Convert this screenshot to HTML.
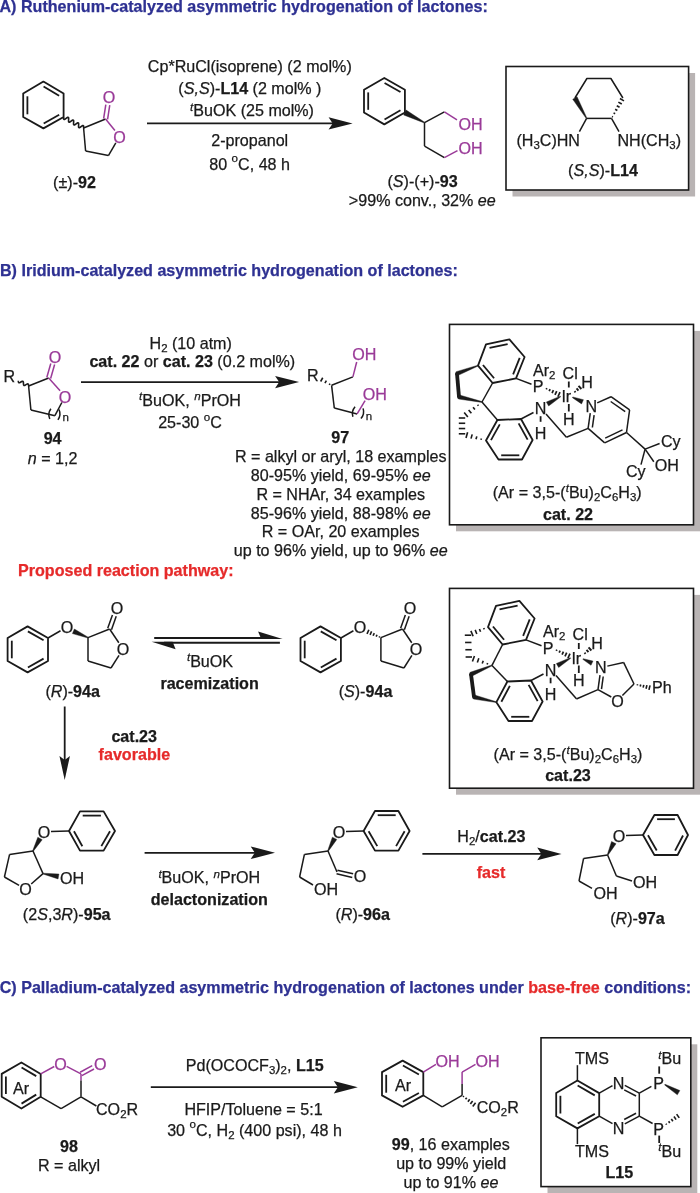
<!DOCTYPE html>
<html><head><meta charset="utf-8"><title>Scheme</title>
<style>
html,body{margin:0;padding:0;background:#fff;}
body{width:700px;height:1193px;overflow:hidden;}
svg{display:block;font-family:"Liberation Sans",sans-serif;will-change:transform;}
</style></head><body>
<svg width="700" height="1193" viewBox="0 0 700 1193">
<rect width="700" height="1193" fill="#ffffff"/>
<text x="-0.50" y="11.90" text-anchor="start" fill="#2e3192" stroke="#2e3192" stroke-width="0.25" font-size="16.1" font-weight="bold"  xml:space="preserve"><tspan font-size="16.10">A) Ruthenium-catalyzed asymmetric hydrogenation of lactones:</tspan></text>
<polygon points="43.40,81.60 63.60,93.60 63.60,117.00 43.40,128.40 23.20,117.00 23.20,93.60" fill="none" stroke="#1a1a1a" stroke-width="1.8" stroke-linejoin="round"/>
<line x1="43.58" y1="86.59" x2="59.13" y2="95.83" stroke="#1a1a1a" stroke-width="1.8"/>
<line x1="59.18" y1="114.67" x2="43.69" y2="123.42" stroke="#1a1a1a" stroke-width="1.8"/>
<line x1="27.40" y1="114.30" x2="27.40" y2="96.30" stroke="#1a1a1a" stroke-width="1.8"/>
<polyline points="63.60,117.00 63.53,118.11 63.60,118.98 63.89,119.44 64.43,119.43 65.20,119.02 66.10,118.38 67.00,117.73 67.77,117.32 68.31,117.31 68.60,117.77 68.67,118.64 68.60,119.75 68.53,120.86 68.60,121.73 68.89,122.19 69.43,122.18 70.20,121.77 71.10,121.12 72.00,120.48 72.77,120.07 73.31,120.06 73.60,120.52 73.67,121.39 73.60,122.50 73.53,123.61 73.60,124.48 73.89,124.94 74.43,124.93 75.20,124.52 76.10,123.88 77.00,123.23 77.77,122.82 78.31,122.81 78.60,123.27 78.67,124.14 78.60,125.25 78.53,126.36 78.60,127.23 78.89,127.69 79.43,127.68 80.20,127.27 81.10,126.62 82.00,125.98 82.77,125.57 83.31,125.56 83.60,126.02 83.67,126.89 83.60,128.00" fill="none" stroke="#1a1a1a" stroke-width="1.6" stroke-linejoin="round"/>
<line x1="83.60" y1="128.00" x2="105.60" y2="119.00" stroke="#1a1a1a" stroke-width="1.5"/>
<line x1="105.60" y1="119.00" x2="114.90" y2="130.56" stroke="#9a3a98" stroke-width="1.5"/>
<line x1="115.82" y1="142.88" x2="108.40" y2="155.60" stroke="#1a1a1a" stroke-width="1.5"/>
<line x1="108.40" y1="155.60" x2="85.60" y2="151.00" stroke="#1a1a1a" stroke-width="1.5"/>
<line x1="85.60" y1="151.00" x2="83.60" y2="128.00" stroke="#1a1a1a" stroke-width="1.5"/>
<line x1="107.58" y1="119.31" x2="109.75" y2="105.21" stroke="#9a3a98" stroke-width="1.5"/>
<line x1="103.62" y1="118.69" x2="105.80" y2="104.60" stroke="#9a3a98" stroke-width="1.5"/>
<text x="109.00" y="103.40" text-anchor="middle" fill="#9a3a98" stroke="#9a3a98" stroke-width="0.25" font-size="16.1"  xml:space="preserve"><tspan font-size="16.10">O</tspan></text>
<text x="119.60" y="142.80" text-anchor="middle" fill="#9a3a98" stroke="#9a3a98" stroke-width="0.25" font-size="16.1"  xml:space="preserve"><tspan font-size="16.10">O</tspan></text>
<text x="74.50" y="187.70" text-anchor="middle" fill="#1a1a1a" stroke="#1a1a1a" stroke-width="0.25" font-size="16.1"  xml:space="preserve"><tspan font-size="16.10">(±)-</tspan><tspan font-size="16.10" font-weight="bold">92</tspan></text>
<line x1="147.00" y1="123.40" x2="333.68" y2="123.40" stroke="#1a1a1a" stroke-width="1.8"/>
<polygon points="352.60,123.40 328.60,129.60 332.68,123.40 328.60,117.20" fill="#1a1a1a"/>
<text x="249.80" y="71.60" text-anchor="middle" fill="#1a1a1a" stroke="#1a1a1a" stroke-width="0.25" font-size="16.1"  xml:space="preserve"><tspan font-size="16.10">Cp*RuCl(isoprene) (2 mol%)</tspan></text>
<text x="249.90" y="93.60" text-anchor="middle" fill="#1a1a1a" stroke="#1a1a1a" stroke-width="0.25" font-size="16.1"  xml:space="preserve"><tspan font-size="16.10">(</tspan><tspan font-size="16.10" font-style="italic">S,S</tspan><tspan font-size="16.10">)-</tspan><tspan font-size="16.10" font-weight="bold">L14</tspan><tspan font-size="16.10"> (2 mol% )</tspan></text>
<text x="252.00" y="116.20" text-anchor="middle" fill="#1a1a1a" stroke="#1a1a1a" stroke-width="0.25" font-size="16.1"  xml:space="preserve"><tspan font-size="11.59" dy="-5.63" font-style="italic">t</tspan><tspan font-size="16.10" dy="5.63">BuOK (25 mol%)</tspan></text>
<text x="249.70" y="146.10" text-anchor="middle" fill="#1a1a1a" stroke="#1a1a1a" stroke-width="0.25" font-size="16.1"  xml:space="preserve"><tspan font-size="16.10">2-propanol</tspan></text>
<text x="249.60" y="169.50" text-anchor="middle" fill="#1a1a1a" stroke="#1a1a1a" stroke-width="0.25" font-size="16.1"  xml:space="preserve"><tspan font-size="16.10">80 </tspan><tspan font-size="11.59" dy="-7.08">o</tspan><tspan font-size="16.10" dy="7.08">C, 48 h</tspan></text>
<polygon points="384.30,78.00 404.90,89.70 404.90,112.50 384.30,124.40 364.00,112.50 364.00,89.70" fill="none" stroke="#1a1a1a" stroke-width="1.8" stroke-linejoin="round"/>
<line x1="384.57" y1="82.99" x2="400.48" y2="92.02" stroke="#1a1a1a" stroke-width="1.8"/>
<line x1="400.46" y1="110.21" x2="384.54" y2="119.41" stroke="#1a1a1a" stroke-width="1.8"/>
<line x1="368.20" y1="109.80" x2="368.20" y2="92.40" stroke="#1a1a1a" stroke-width="1.8"/>
<polygon points="424.32,122.96 424.68,122.24 406.16,110.06 403.64,114.94" fill="#1a1a1a" stroke="#1a1a1a" stroke-width="0.4"/>
<line x1="424.50" y1="122.60" x2="444.40" y2="111.90" stroke="#1a1a1a" stroke-width="1.5"/>
<line x1="444.40" y1="111.90" x2="457.00" y2="119.90" stroke="#9a3a98" stroke-width="1.5"/>
<line x1="424.50" y1="122.60" x2="424.50" y2="146.10" stroke="#1a1a1a" stroke-width="1.5"/>
<line x1="424.50" y1="146.10" x2="444.40" y2="157.60" stroke="#1a1a1a" stroke-width="1.5"/>
<line x1="444.40" y1="157.60" x2="457.50" y2="150.70" stroke="#9a3a98" stroke-width="1.5"/>
<text x="458.60" y="130.20" text-anchor="start" fill="#9a3a98" stroke="#9a3a98" stroke-width="0.25" font-size="16.1"  xml:space="preserve"><tspan font-size="16.10">OH</tspan></text>
<text x="458.60" y="153.70" text-anchor="start" fill="#9a3a98" stroke="#9a3a98" stroke-width="0.25" font-size="16.1"  xml:space="preserve"><tspan font-size="16.10">OH</tspan></text>
<text x="422.60" y="186.70" text-anchor="middle" fill="#1a1a1a" stroke="#1a1a1a" stroke-width="0.25" font-size="16.1"  xml:space="preserve"><tspan font-size="16.10">(</tspan><tspan font-size="16.10" font-style="italic">S</tspan><tspan font-size="16.10">)-(+)-</tspan><tspan font-size="16.10" font-weight="bold">93</tspan></text>
<text x="422.30" y="206.10" text-anchor="middle" fill="#1a1a1a" stroke="#1a1a1a" stroke-width="0.25" font-size="16.1"  xml:space="preserve"><tspan font-size="16.10">&gt;99% conv., 32% </tspan><tspan font-size="16.10" font-style="italic">ee</tspan></text>
<rect x="512.5" y="73.0" width="182.60000000000002" height="123.5" fill="#b9b4b4"/>
<rect x="506" y="66.5" width="182.60000000000002" height="123.5" fill="#fff" stroke="#1a1a1a" stroke-width="1.6"/>
<polyline points="574.90,98.00 586.90,78.50 610.90,78.50 622.90,98.00" fill="none" stroke="#1a1a1a" stroke-width="1.5" stroke-linejoin="round"/>
<line x1="611.50" y1="118.40" x2="586.60" y2="118.40" stroke="#1a1a1a" stroke-width="1.5"/>
<polygon points="586.25,118.60 586.95,118.20 577.07,96.76 572.73,99.24" fill="#1a1a1a" stroke="#1a1a1a" stroke-width="0.4"/>
<line x1="611.97" y1="116.43" x2="612.93" y2="116.97" stroke="#1a1a1a" stroke-width="1.6"/>
<line x1="613.56" y1="112.86" x2="615.14" y2="113.74" stroke="#1a1a1a" stroke-width="1.6"/>
<line x1="615.15" y1="109.29" x2="617.35" y2="110.51" stroke="#1a1a1a" stroke-width="1.6"/>
<line x1="616.74" y1="105.71" x2="619.56" y2="107.29" stroke="#1a1a1a" stroke-width="1.6"/>
<line x1="618.33" y1="102.14" x2="621.77" y2="104.06" stroke="#1a1a1a" stroke-width="1.6"/>
<line x1="619.92" y1="98.57" x2="623.98" y2="100.83" stroke="#1a1a1a" stroke-width="1.6"/>
<line x1="586.60" y1="118.40" x2="579.40" y2="131.60" stroke="#1a1a1a" stroke-width="1.5"/>
<line x1="611.50" y1="118.40" x2="619.00" y2="131.60" stroke="#1a1a1a" stroke-width="1.5"/>
<text x="580.00" y="146.20" text-anchor="end" fill="#1a1a1a" stroke="#1a1a1a" stroke-width="0.25" font-size="16.1"  xml:space="preserve"><tspan font-size="16.10">(H</tspan><tspan font-size="11.43" dy="3.06">3</tspan><tspan font-size="16.10" dy="-3.06">C)HN</tspan></text>
<text x="617.50" y="146.20" text-anchor="start" fill="#1a1a1a" stroke="#1a1a1a" stroke-width="0.25" font-size="16.1"  xml:space="preserve"><tspan font-size="16.10">NH(CH</tspan><tspan font-size="11.43" dy="3.06">3</tspan><tspan font-size="16.10" dy="-3.06">)</tspan></text>
<text x="603.00" y="176.20" text-anchor="middle" fill="#1a1a1a" stroke="#1a1a1a" stroke-width="0.25" font-size="16.1"  xml:space="preserve"><tspan font-size="16.10">(</tspan><tspan font-size="16.10" font-style="italic">S,S</tspan><tspan font-size="16.10">)-</tspan><tspan font-size="16.10" font-weight="bold">L14</tspan></text>
<text x="0.00" y="276.30" text-anchor="start" fill="#2e3192" stroke="#2e3192" stroke-width="0.25" font-size="16.1" font-weight="bold"  xml:space="preserve"><tspan font-size="16.10">B) Iridium-catalyzed asymmetric hydrogenation of lactones:</tspan></text>
<text x="3.40" y="382.10" text-anchor="start" fill="#1a1a1a" stroke="#1a1a1a" stroke-width="0.25" font-size="16.1"  xml:space="preserve"><tspan font-size="16.10">R</tspan></text>
<polyline points="18.30,380.70 18.36,381.63 18.52,382.37 18.86,382.79 19.38,382.82 20.08,382.52 20.88,382.02 21.67,381.53 22.37,381.23 22.89,381.26 23.23,381.68 23.39,382.42 23.45,383.35 23.51,384.28 23.67,385.02 24.01,385.44 24.53,385.47 25.23,385.17 26.03,384.68 26.82,384.18 27.52,383.88 28.04,383.91 28.38,384.33 28.54,385.07 28.60,386.00" fill="none" stroke="#1a1a1a" stroke-width="1.6" stroke-linejoin="round"/>
<line x1="28.60" y1="386.00" x2="48.70" y2="378.00" stroke="#1a1a1a" stroke-width="1.5"/>
<line x1="50.62" y1="378.55" x2="54.63" y2="364.54" stroke="#9a3a98" stroke-width="1.5"/>
<line x1="46.78" y1="377.45" x2="50.78" y2="363.44" stroke="#9a3a98" stroke-width="1.5"/>
<text x="54.90" y="362.70" text-anchor="middle" fill="#9a3a98" stroke="#9a3a98" stroke-width="0.25" font-size="16.1"  xml:space="preserve"><tspan font-size="16.10">O</tspan></text>
<text x="65.10" y="402.70" text-anchor="middle" fill="#9a3a98" stroke="#9a3a98" stroke-width="0.25" font-size="16.1"  xml:space="preserve"><tspan font-size="16.10">O</tspan></text>
<line x1="48.70" y1="378.00" x2="60.09" y2="390.71" stroke="#9a3a98" stroke-width="1.5"/>
<line x1="61.84" y1="402.50" x2="54.90" y2="415.70" stroke="#1a1a1a" stroke-width="1.5"/>
<line x1="28.60" y1="386.00" x2="30.90" y2="410.00" stroke="#1a1a1a" stroke-width="1.5"/>
<line x1="30.90" y1="410.00" x2="54.90" y2="415.70" stroke="#1a1a1a" stroke-width="1.5"/>
<g transform="translate(54.40,414.30) rotate(6.0)"><path d="M-4.10,-5.2 Q-7.00,0 -4.10,5.2" fill="none" stroke="#1a1a1a" stroke-width="1.5"/><path d="M4.10,-5.2 Q7.00,0 4.10,5.2" fill="none" stroke="#1a1a1a" stroke-width="1.5"/></g>
<text x="62.50" y="421.10" text-anchor="start" fill="#1a1a1a" stroke="#1a1a1a" stroke-width="0.25" font-size="11.5"  xml:space="preserve"><tspan font-size="11.50">n</tspan></text>
<text x="52.60" y="444.30" text-anchor="middle" fill="#1a1a1a" stroke="#1a1a1a" stroke-width="0.25" font-size="16.1"  xml:space="preserve"><tspan font-size="16.10" font-weight="bold">94</tspan></text>
<text x="52.60" y="463.70" text-anchor="middle" fill="#1a1a1a" stroke="#1a1a1a" stroke-width="0.25" font-size="16.1"  xml:space="preserve"><tspan font-size="16.10" font-style="italic">n</tspan><tspan font-size="16.10"> = 1,2</tspan></text>
<line x1="81.00" y1="382.10" x2="280.18" y2="382.10" stroke="#1a1a1a" stroke-width="1.8"/>
<polygon points="299.10,382.10 275.10,388.30 279.18,382.10 275.10,375.90" fill="#1a1a1a"/>
<text x="190.70" y="349.30" text-anchor="middle" fill="#1a1a1a" stroke="#1a1a1a" stroke-width="0.25" font-size="16.1"  xml:space="preserve"><tspan font-size="16.10">H</tspan><tspan font-size="11.43" dy="3.06">2</tspan><tspan font-size="16.10" dy="-3.06"> (10 atm)</tspan></text>
<text x="192.30" y="367.00" text-anchor="middle" fill="#1a1a1a" stroke="#1a1a1a" stroke-width="0.25" font-size="16.1"  xml:space="preserve"><tspan font-size="16.10" font-weight="bold">cat. 22</tspan><tspan font-size="16.10"> or </tspan><tspan font-size="16.10" font-weight="bold">cat. 23</tspan><tspan font-size="16.10"> (0.2 mol%)</tspan></text>
<text x="190.00" y="405.90" text-anchor="middle" fill="#1a1a1a" stroke="#1a1a1a" stroke-width="0.25" font-size="16.1"  xml:space="preserve"><tspan font-size="11.59" dy="-5.63" font-style="italic">t</tspan><tspan font-size="16.10" dy="5.63">BuOK, </tspan><tspan font-size="11.59" dy="-5.63" font-style="italic">n</tspan><tspan font-size="16.10" dy="5.63">PrOH</tspan></text>
<text x="190.00" y="428.00" text-anchor="middle" fill="#1a1a1a" stroke="#1a1a1a" stroke-width="0.25" font-size="16.1"  xml:space="preserve"><tspan font-size="16.10">25-30 </tspan><tspan font-size="11.59" dy="-7.08">o</tspan><tspan font-size="16.10" dy="7.08">C</tspan></text>
<text x="307.10" y="380.50" text-anchor="start" fill="#1a1a1a" stroke="#1a1a1a" stroke-width="0.25" font-size="16.1"  xml:space="preserve"><tspan font-size="16.10">R</tspan></text>
<line x1="329.25" y1="384.80" x2="329.98" y2="383.53" stroke="#1a1a1a" stroke-width="1.6"/>
<line x1="324.94" y1="383.15" x2="326.36" y2="380.65" stroke="#1a1a1a" stroke-width="1.6"/>
<line x1="320.62" y1="381.50" x2="322.75" y2="377.77" stroke="#1a1a1a" stroke-width="1.6"/>
<line x1="331.60" y1="385.30" x2="352.90" y2="376.90" stroke="#1a1a1a" stroke-width="1.5"/>
<line x1="352.90" y1="376.90" x2="356.70" y2="362.00" stroke="#9a3a98" stroke-width="1.5"/>
<text x="352.20" y="360.40" text-anchor="start" fill="#9a3a98" stroke="#9a3a98" stroke-width="0.25" font-size="16.1"  xml:space="preserve"><tspan font-size="16.10">OH</tspan></text>
<line x1="331.60" y1="385.30" x2="334.30" y2="408.10" stroke="#1a1a1a" stroke-width="1.5"/>
<line x1="334.30" y1="408.10" x2="357.10" y2="413.90" stroke="#1a1a1a" stroke-width="1.5"/>
<line x1="357.10" y1="413.90" x2="365.10" y2="400.70" stroke="#9a3a98" stroke-width="1.5"/>
<text x="362.70" y="399.70" text-anchor="start" fill="#9a3a98" stroke="#9a3a98" stroke-width="0.25" font-size="16.1"  xml:space="preserve"><tspan font-size="16.10">OH</tspan></text>
<g transform="translate(358.00,412.60) rotate(12.0)"><path d="M-4.10,-5.2 Q-7.00,0 -4.10,5.2" fill="none" stroke="#1a1a1a" stroke-width="1.5"/><path d="M4.10,-5.2 Q7.00,0 4.10,5.2" fill="none" stroke="#1a1a1a" stroke-width="1.5"/></g>
<text x="365.70" y="419.60" text-anchor="start" fill="#1a1a1a" stroke="#1a1a1a" stroke-width="0.25" font-size="11.5"  xml:space="preserve"><tspan font-size="11.50">n</tspan></text>
<text x="340.30" y="443.40" text-anchor="middle" fill="#1a1a1a" stroke="#1a1a1a" stroke-width="0.25" font-size="16.1"  xml:space="preserve"><tspan font-size="16.10" font-weight="bold">97</tspan></text>
<text x="340.70" y="462.00" text-anchor="middle" fill="#1a1a1a" stroke="#1a1a1a" stroke-width="0.25" font-size="16.1"  xml:space="preserve"><tspan font-size="16.10">R = alkyl or aryl, 18 examples</tspan></text>
<text x="340.70" y="480.85" text-anchor="middle" fill="#1a1a1a" stroke="#1a1a1a" stroke-width="0.25" font-size="16.1"  xml:space="preserve"><tspan font-size="16.10">80-95% yield, 69-95% </tspan><tspan font-size="16.10" font-style="italic">ee</tspan></text>
<text x="340.70" y="499.70" text-anchor="middle" fill="#1a1a1a" stroke="#1a1a1a" stroke-width="0.25" font-size="16.1"  xml:space="preserve"><tspan font-size="16.10">R = NHAr, 34 examples</tspan></text>
<text x="340.70" y="518.55" text-anchor="middle" fill="#1a1a1a" stroke="#1a1a1a" stroke-width="0.25" font-size="16.1"  xml:space="preserve"><tspan font-size="16.10">85-96% yield, 88-98% </tspan><tspan font-size="16.10" font-style="italic">ee</tspan></text>
<text x="340.70" y="537.40" text-anchor="middle" fill="#1a1a1a" stroke="#1a1a1a" stroke-width="0.25" font-size="16.1"  xml:space="preserve"><tspan font-size="16.10">R = OAr, 20 examples</tspan></text>
<text x="340.70" y="556.25" text-anchor="middle" fill="#1a1a1a" stroke="#1a1a1a" stroke-width="0.25" font-size="16.1"  xml:space="preserve"><tspan font-size="16.10">up to 96% yield, up to 96% </tspan><tspan font-size="16.10" font-style="italic">ee</tspan></text>
<rect x="456.0" y="330.9" width="244.0" height="200.39999999999998" fill="#b9b4b4"/>
<rect x="449.5" y="324.4" width="244.0" height="200.39999999999998" fill="#fff" stroke="#1a1a1a" stroke-width="1.6"/>
<polygon points="486.00,344.40 509.40,339.40 524.60,357.00 516.00,378.40 492.60,383.00 478.00,365.60" fill="none" stroke="#1a1a1a" stroke-width="1.8" stroke-linejoin="round"/>
<line x1="489.52" y1="347.94" x2="507.64" y2="344.07" stroke="#1a1a1a" stroke-width="1.8"/>
<line x1="519.70" y1="357.94" x2="513.11" y2="374.33" stroke="#1a1a1a" stroke-width="1.8"/>
<line x1="494.08" y1="378.23" x2="482.95" y2="364.97" stroke="#1a1a1a" stroke-width="1.8"/>
<polygon points="486.00,440.50 497.40,420.00 521.00,419.00 532.60,440.00 522.00,459.50 498.50,459.50" fill="none" stroke="#1a1a1a" stroke-width="1.8" stroke-linejoin="round"/>
<line x1="490.98" y1="440.18" x2="499.76" y2="424.40" stroke="#1a1a1a" stroke-width="1.8"/>
<line x1="518.63" y1="423.39" x2="527.62" y2="439.67" stroke="#1a1a1a" stroke-width="1.8"/>
<line x1="519.30" y1="455.30" x2="501.20" y2="455.30" stroke="#1a1a1a" stroke-width="1.8"/>
<line x1="482.00" y1="402.00" x2="492.60" y2="383.00" stroke="#1a1a1a" stroke-width="1.5"/>
<line x1="482.00" y1="402.00" x2="497.40" y2="420.00" stroke="#1a1a1a" stroke-width="1.5"/>
<polygon points="478.14,365.97 477.86,365.23 456.25,371.64 457.75,375.56" fill="#1a1a1a" stroke="#1a1a1a" stroke-width="0.4"/>
<line x1="457.00" y1="373.60" x2="459.00" y2="397.00" stroke="#1a1a1a" stroke-width="3.8"/>
<polygon points="481.92,402.39 482.08,401.61 459.45,394.95 458.55,399.05" fill="#1a1a1a" stroke="#1a1a1a" stroke-width="0.4"/>
<circle cx="457.00" cy="373.60" r="1.9" fill="#1a1a1a"/><circle cx="459.00" cy="397.00" r="1.9" fill="#1a1a1a"/>
<line x1="478.46" y1="405.77" x2="477.54" y2="404.63" stroke="#1a1a1a" stroke-width="1.6"/>
<line x1="474.92" y1="409.55" x2="473.08" y2="407.25" stroke="#1a1a1a" stroke-width="1.6"/>
<line x1="471.38" y1="413.32" x2="468.62" y2="409.88" stroke="#1a1a1a" stroke-width="1.6"/>
<line x1="467.84" y1="417.10" x2="464.16" y2="412.50" stroke="#1a1a1a" stroke-width="1.6"/>
<line x1="458.80" y1="418.00" x2="465.20" y2="418.00" stroke="#1a1a1a" stroke-width="1.6"/>
<line x1="458.80" y1="423.27" x2="465.20" y2="423.27" stroke="#1a1a1a" stroke-width="1.6"/>
<line x1="458.80" y1="428.53" x2="465.20" y2="428.53" stroke="#1a1a1a" stroke-width="1.6"/>
<line x1="458.80" y1="433.80" x2="465.20" y2="433.80" stroke="#1a1a1a" stroke-width="1.6"/>
<line x1="481.00" y1="439.87" x2="481.40" y2="438.45" stroke="#1a1a1a" stroke-width="1.6"/>
<line x1="476.00" y1="439.24" x2="476.80" y2="436.40" stroke="#1a1a1a" stroke-width="1.6"/>
<line x1="471.01" y1="438.61" x2="472.19" y2="434.35" stroke="#1a1a1a" stroke-width="1.6"/>
<line x1="466.01" y1="437.98" x2="467.59" y2="432.30" stroke="#1a1a1a" stroke-width="1.6"/>
<line x1="516.00" y1="378.40" x2="531.50" y2="384.20" stroke="#1a1a1a" stroke-width="1.5"/>
<text x="538.00" y="392.40" text-anchor="middle" fill="#1a1a1a" stroke="#1a1a1a" stroke-width="0.25" font-size="16.1"  xml:space="preserve"><tspan font-size="16.10">P</tspan></text>
<text x="533.00" y="375.70" text-anchor="start" fill="#1a1a1a" stroke="#1a1a1a" stroke-width="0.25" font-size="16.1"  xml:space="preserve"><tspan font-size="16.10">Ar</tspan><tspan font-size="11.43" dy="3.06">2</tspan></text>
<line x1="521.00" y1="419.00" x2="533.50" y2="412.50" stroke="#1a1a1a" stroke-width="1.5"/>
<text x="540.60" y="414.30" text-anchor="middle" fill="#1a1a1a" stroke="#1a1a1a" stroke-width="0.25" font-size="16.1"  xml:space="preserve"><tspan font-size="16.10">N</tspan></text>
<line x1="540.60" y1="416.20" x2="540.60" y2="421.80" stroke="#1a1a1a" stroke-width="1.8"/>
<text x="540.60" y="438.70" text-anchor="middle" fill="#1a1a1a" stroke="#1a1a1a" stroke-width="0.25" font-size="16.1"  xml:space="preserve"><tspan font-size="16.10">H</tspan></text>
<text x="566.30" y="402.30" text-anchor="middle" fill="#1a1a1a" stroke="#1a1a1a" stroke-width="0.25" font-size="16.1"  xml:space="preserve"><tspan font-size="16.10">Ir</tspan></text>
<text x="570.20" y="378.70" text-anchor="middle" fill="#1a1a1a" stroke="#1a1a1a" stroke-width="0.25" font-size="16.1"  xml:space="preserve"><tspan font-size="16.10">Cl</tspan></text>
<line x1="568.80" y1="381.50" x2="568.80" y2="387.50" stroke="#1a1a1a" stroke-width="1.8"/>
<line x1="568.80" y1="404.00" x2="568.80" y2="411.50" stroke="#1a1a1a" stroke-width="1.8"/>
<text x="568.80" y="424.90" text-anchor="middle" fill="#1a1a1a" stroke="#1a1a1a" stroke-width="0.25" font-size="16.1"  xml:space="preserve"><tspan font-size="16.10">H</tspan></text>
<text x="587.00" y="387.70" text-anchor="middle" fill="#1a1a1a" stroke="#1a1a1a" stroke-width="0.25" font-size="16.1"  xml:space="preserve"><tspan font-size="16.10">H</tspan></text>
<line x1="546.82" y1="388.13" x2="546.28" y2="389.31" stroke="#1a1a1a" stroke-width="1.7"/>
<line x1="550.12" y1="389.15" x2="549.18" y2="391.17" stroke="#1a1a1a" stroke-width="1.7"/>
<line x1="553.42" y1="390.17" x2="552.08" y2="393.03" stroke="#1a1a1a" stroke-width="1.7"/>
<line x1="556.71" y1="391.18" x2="554.99" y2="394.90" stroke="#1a1a1a" stroke-width="1.7"/>
<line x1="560.01" y1="392.20" x2="557.89" y2="396.76" stroke="#1a1a1a" stroke-width="1.7"/>
<polygon points="560.70,396.85 560.30,396.15 546.35,402.01 548.65,405.99" fill="#1a1a1a" stroke="#1a1a1a" stroke-width="0.4"/>
<line x1="574.55" y1="391.17" x2="575.51" y2="392.26" stroke="#1a1a1a" stroke-width="1.9"/>
<line x1="576.55" y1="388.47" x2="578.45" y2="390.63" stroke="#1a1a1a" stroke-width="1.9"/>
<line x1="578.55" y1="385.77" x2="581.38" y2="389.00" stroke="#1a1a1a" stroke-width="1.9"/>
<line x1="546.00" y1="414.00" x2="566.40" y2="437.30" stroke="#1a1a1a" stroke-width="1.5"/>
<polygon points="572.77,396.94 572.43,397.66 581.55,403.89 583.45,399.71" fill="#1a1a1a" stroke="#1a1a1a" stroke-width="0.4"/>
<text x="591.30" y="411.50" text-anchor="middle" fill="#1a1a1a" stroke="#1a1a1a" stroke-width="0.25" font-size="16.1"  xml:space="preserve"><tspan font-size="16.10">N</tspan></text>
<line x1="597.22" y1="402.92" x2="611.00" y2="396.70" stroke="#1a1a1a" stroke-width="1.5"/>
<line x1="611.00" y1="396.70" x2="629.60" y2="409.80" stroke="#1a1a1a" stroke-width="1.5"/>
<line x1="610.68" y1="401.49" x2="625.20" y2="411.71" stroke="#1a1a1a" stroke-width="1.5"/>
<line x1="629.60" y1="409.80" x2="626.50" y2="432.50" stroke="#1a1a1a" stroke-width="1.5"/>
<line x1="626.50" y1="432.50" x2="604.70" y2="442.90" stroke="#1a1a1a" stroke-width="1.5"/>
<line x1="622.48" y1="429.88" x2="605.19" y2="438.12" stroke="#1a1a1a" stroke-width="1.5"/>
<line x1="604.70" y1="442.90" x2="588.10" y2="428.40" stroke="#1a1a1a" stroke-width="1.5"/>
<line x1="588.10" y1="428.40" x2="590.26" y2="413.03" stroke="#1a1a1a" stroke-width="1.5"/>
<line x1="592.37" y1="427.48" x2="594.11" y2="415.08" stroke="#1a1a1a" stroke-width="1.5"/>
<line x1="588.10" y1="428.40" x2="566.40" y2="437.30" stroke="#1a1a1a" stroke-width="1.5"/>
<line x1="626.50" y1="432.50" x2="645.10" y2="449.10" stroke="#1a1a1a" stroke-width="1.5"/>
<line x1="645.10" y1="449.10" x2="659.60" y2="443.50" stroke="#1a1a1a" stroke-width="1.5"/>
<text x="661.00" y="446.70" text-anchor="start" fill="#1a1a1a" stroke="#1a1a1a" stroke-width="0.25" font-size="16.1"  xml:space="preserve"><tspan font-size="16.10">Cy</tspan></text>
<line x1="645.10" y1="449.10" x2="653.83" y2="461.78" stroke="#1a1a1a" stroke-width="1.5"/>
<text x="654.80" y="471.10" text-anchor="start" fill="#1a1a1a" stroke="#1a1a1a" stroke-width="0.25" font-size="16.1"  xml:space="preserve"><tspan font-size="16.10">OH</tspan></text>
<line x1="645.10" y1="449.10" x2="641.00" y2="464.60" stroke="#1a1a1a" stroke-width="1.5"/>
<text x="626.00" y="477.20" text-anchor="start" fill="#1a1a1a" stroke="#1a1a1a" stroke-width="0.25" font-size="16.1"  xml:space="preserve"><tspan font-size="16.10">Cy</tspan></text>
<text x="567.20" y="497.90" text-anchor="middle" fill="#1a1a1a" stroke="#1a1a1a" stroke-width="0.25" font-size="16.1"  xml:space="preserve"><tspan font-size="16.10">(Ar = 3,5-(</tspan><tspan font-size="11.59" dy="-5.63" font-style="italic">t</tspan><tspan font-size="16.10" dy="5.63">Bu)</tspan><tspan font-size="11.43" dy="3.06">2</tspan><tspan font-size="16.10" dy="-3.06">C</tspan><tspan font-size="11.43" dy="3.06">6</tspan><tspan font-size="16.10" dy="-3.06">H</tspan><tspan font-size="11.43" dy="3.06">3</tspan><tspan font-size="16.10" dy="-3.06">)</tspan></text>
<text x="568.00" y="519.70" text-anchor="middle" fill="#1a1a1a" stroke="#1a1a1a" stroke-width="0.25" font-size="16.1"  xml:space="preserve"><tspan font-size="16.10" font-weight="bold">cat. 22</tspan></text>
<text x="18.00" y="576.00" text-anchor="start" fill="#e62a2a" stroke="#e62a2a" stroke-width="0.25" font-size="16.1" font-weight="bold"  xml:space="preserve"><tspan font-size="16.10">Proposed reaction pathway:</tspan></text>
<polygon points="27.60,626.40 48.00,638.00 48.00,661.00 27.60,672.40 7.60,661.00 7.60,638.00" fill="none" stroke="#1a1a1a" stroke-width="1.8" stroke-linejoin="round"/>
<line x1="27.87" y1="631.39" x2="43.58" y2="640.32" stroke="#1a1a1a" stroke-width="1.8"/>
<line x1="43.59" y1="658.65" x2="27.91" y2="667.42" stroke="#1a1a1a" stroke-width="1.8"/>
<line x1="11.80" y1="658.30" x2="11.80" y2="640.70" stroke="#1a1a1a" stroke-width="1.8"/>
<line x1="48.00" y1="638.00" x2="60.51" y2="630.76" stroke="#1a1a1a" stroke-width="1.5"/>
<text x="67.00" y="633.20" text-anchor="middle" fill="#1a1a1a" stroke="#1a1a1a" stroke-width="0.25" font-size="16.1"  xml:space="preserve"><tspan font-size="16.10">O</tspan></text>
<polygon points="87.84,637.97 88.16,637.23 74.39,629.00 72.41,633.60" fill="#1a1a1a" stroke="#1a1a1a" stroke-width="0.4"/>
<line x1="88.00" y1="637.60" x2="109.60" y2="629.00" stroke="#1a1a1a" stroke-width="1.5"/>
<line x1="111.49" y1="629.66" x2="116.23" y2="616.21" stroke="#1a1a1a" stroke-width="1.5"/>
<line x1="107.71" y1="628.34" x2="112.45" y2="614.88" stroke="#1a1a1a" stroke-width="1.5"/>
<text x="117.00" y="613.90" text-anchor="middle" fill="#1a1a1a" stroke="#1a1a1a" stroke-width="0.25" font-size="16.1"  xml:space="preserve"><tspan font-size="16.10">O</tspan></text>
<line x1="109.60" y1="629.00" x2="118.83" y2="642.77" stroke="#1a1a1a" stroke-width="1.5"/>
<text x="123.00" y="655.20" text-anchor="middle" fill="#1a1a1a" stroke="#1a1a1a" stroke-width="0.25" font-size="16.1"  xml:space="preserve"><tspan font-size="16.10">O</tspan></text>
<line x1="119.00" y1="655.34" x2="111.00" y2="668.00" stroke="#1a1a1a" stroke-width="1.5"/>
<line x1="111.00" y1="668.00" x2="88.00" y2="661.00" stroke="#1a1a1a" stroke-width="1.5"/>
<line x1="88.00" y1="661.00" x2="88.00" y2="637.60" stroke="#1a1a1a" stroke-width="1.5"/>
<text x="72.70" y="697.10" text-anchor="middle" fill="#1a1a1a" stroke="#1a1a1a" stroke-width="0.25" font-size="16.1"  xml:space="preserve"><tspan font-size="16.10">(</tspan><tspan font-size="16.10" font-style="italic">R</tspan><tspan font-size="16.10">)-</tspan><tspan font-size="16.10" font-weight="bold">94a</tspan></text>
<polygon points="320.50,626.40 340.90,638.00 340.90,661.00 320.50,672.40 300.50,661.00 300.50,638.00" fill="none" stroke="#1a1a1a" stroke-width="1.8" stroke-linejoin="round"/>
<line x1="320.77" y1="631.39" x2="336.48" y2="640.32" stroke="#1a1a1a" stroke-width="1.8"/>
<line x1="336.49" y1="658.65" x2="320.81" y2="667.42" stroke="#1a1a1a" stroke-width="1.8"/>
<line x1="304.70" y1="658.30" x2="304.70" y2="640.70" stroke="#1a1a1a" stroke-width="1.8"/>
<line x1="340.90" y1="638.00" x2="353.41" y2="630.76" stroke="#1a1a1a" stroke-width="1.5"/>
<text x="359.90" y="633.20" text-anchor="middle" fill="#1a1a1a" stroke="#1a1a1a" stroke-width="0.25" font-size="16.1"  xml:space="preserve"><tspan font-size="16.10">O</tspan></text>
<line x1="379.22" y1="637.50" x2="379.70" y2="636.42" stroke="#1a1a1a" stroke-width="1.6"/>
<line x1="376.17" y1="636.61" x2="376.99" y2="634.75" stroke="#1a1a1a" stroke-width="1.6"/>
<line x1="373.12" y1="635.71" x2="374.28" y2="633.09" stroke="#1a1a1a" stroke-width="1.6"/>
<line x1="370.06" y1="634.82" x2="371.58" y2="631.42" stroke="#1a1a1a" stroke-width="1.6"/>
<line x1="367.01" y1="633.93" x2="368.87" y2="629.75" stroke="#1a1a1a" stroke-width="1.6"/>
<line x1="380.90" y1="637.60" x2="402.50" y2="629.00" stroke="#1a1a1a" stroke-width="1.5"/>
<line x1="404.39" y1="629.66" x2="409.13" y2="616.21" stroke="#1a1a1a" stroke-width="1.5"/>
<line x1="400.61" y1="628.34" x2="405.35" y2="614.88" stroke="#1a1a1a" stroke-width="1.5"/>
<text x="409.90" y="613.90" text-anchor="middle" fill="#1a1a1a" stroke="#1a1a1a" stroke-width="0.25" font-size="16.1"  xml:space="preserve"><tspan font-size="16.10">O</tspan></text>
<line x1="402.50" y1="629.00" x2="411.73" y2="642.77" stroke="#1a1a1a" stroke-width="1.5"/>
<text x="415.90" y="655.20" text-anchor="middle" fill="#1a1a1a" stroke="#1a1a1a" stroke-width="0.25" font-size="16.1"  xml:space="preserve"><tspan font-size="16.10">O</tspan></text>
<line x1="411.90" y1="655.34" x2="403.90" y2="668.00" stroke="#1a1a1a" stroke-width="1.5"/>
<line x1="403.90" y1="668.00" x2="380.90" y2="661.00" stroke="#1a1a1a" stroke-width="1.5"/>
<line x1="380.90" y1="661.00" x2="380.90" y2="637.60" stroke="#1a1a1a" stroke-width="1.5"/>
<text x="365.50" y="696.90" text-anchor="middle" fill="#1a1a1a" stroke="#1a1a1a" stroke-width="0.25" font-size="16.1"  xml:space="preserve"><tspan font-size="16.10">(</tspan><tspan font-size="16.10" font-style="italic">S</tspan><tspan font-size="16.10">)-</tspan><tspan font-size="16.10" font-weight="bold">94a</tspan></text>
<line x1="154.20" y1="638.00" x2="270.00" y2="638.00" stroke="#1a1a1a" stroke-width="1.9"/>
<polygon points="282.6,638.95 258.1,631.6 261.2,638.95" fill="#1a1a1a"/>
<line x1="164.00" y1="642.70" x2="279.90" y2="642.70" stroke="#1a1a1a" stroke-width="1.9"/>
<polygon points="151.6,641.75 175.6,649.2 172.6,641.75" fill="#1a1a1a"/>
<text x="210.00" y="667.00" text-anchor="middle" fill="#1a1a1a" stroke="#1a1a1a" stroke-width="0.25" font-size="16.1"  xml:space="preserve"><tspan font-size="11.59" dy="-5.63" font-style="italic">t</tspan><tspan font-size="16.10" dy="5.63">BuOK</tspan></text>
<text x="209.60" y="688.70" text-anchor="middle" fill="#1a1a1a" stroke="#1a1a1a" stroke-width="0.25" font-size="16.1"  xml:space="preserve"><tspan font-size="16.10" font-weight="bold">racemization</tspan></text>
<line x1="64.70" y1="706.50" x2="64.70" y2="760.98" stroke="#1a1a1a" stroke-width="1.8"/>
<polygon points="64.70,779.90 59.45,755.90 64.70,759.98 69.95,755.90" fill="#1a1a1a"/>
<text x="134.20" y="741.70" text-anchor="middle" fill="#1a1a1a" stroke="#1a1a1a" stroke-width="0.25" font-size="16.1"  xml:space="preserve"><tspan font-size="16.10" font-weight="bold">cat.23</tspan></text>
<text x="134.40" y="759.90" text-anchor="middle" fill="#e62a2a" stroke="#e62a2a" stroke-width="0.25" font-size="16.1" font-weight="bold"  xml:space="preserve"><tspan font-size="16.10">favorable</tspan></text>
<rect x="456.0" y="594.9" width="244.0" height="199.80000000000007" fill="#b9b4b4"/>
<rect x="449.5" y="588.4" width="244.0" height="199.80000000000007" fill="#fff" stroke="#1a1a1a" stroke-width="1.6"/>
<polygon points="496.00,605.90 519.40,600.90 534.60,618.50 526.00,639.90 502.60,644.50 488.00,627.10" fill="none" stroke="#1a1a1a" stroke-width="1.8" stroke-linejoin="round"/>
<line x1="499.52" y1="609.44" x2="517.64" y2="605.57" stroke="#1a1a1a" stroke-width="1.8"/>
<line x1="529.70" y1="619.44" x2="523.11" y2="635.83" stroke="#1a1a1a" stroke-width="1.8"/>
<line x1="504.08" y1="639.73" x2="492.95" y2="626.47" stroke="#1a1a1a" stroke-width="1.8"/>
<polygon points="496.40,702.20 507.40,681.50 531.00,680.50 542.60,701.50 532.00,721.00 508.50,721.00" fill="none" stroke="#1a1a1a" stroke-width="1.8" stroke-linejoin="round"/>
<line x1="501.38" y1="701.79" x2="509.84" y2="685.86" stroke="#1a1a1a" stroke-width="1.8"/>
<line x1="528.63" y1="684.89" x2="537.62" y2="701.17" stroke="#1a1a1a" stroke-width="1.8"/>
<line x1="529.30" y1="716.80" x2="511.20" y2="716.80" stroke="#1a1a1a" stroke-width="1.8"/>
<line x1="492.00" y1="665.40" x2="502.60" y2="644.50" stroke="#1a1a1a" stroke-width="1.5"/>
<line x1="492.00" y1="665.40" x2="507.40" y2="681.50" stroke="#1a1a1a" stroke-width="1.5"/>
<line x1="484.28" y1="629.40" x2="483.72" y2="628.04" stroke="#1a1a1a" stroke-width="1.6"/>
<line x1="480.55" y1="631.70" x2="479.45" y2="628.98" stroke="#1a1a1a" stroke-width="1.6"/>
<line x1="476.83" y1="634.01" x2="475.17" y2="629.91" stroke="#1a1a1a" stroke-width="1.6"/>
<line x1="473.11" y1="636.31" x2="470.89" y2="630.85" stroke="#1a1a1a" stroke-width="1.6"/>
<line x1="464.80" y1="635.20" x2="471.20" y2="635.20" stroke="#1a1a1a" stroke-width="1.6"/>
<line x1="465.07" y1="642.47" x2="471.47" y2="642.47" stroke="#1a1a1a" stroke-width="1.6"/>
<line x1="465.33" y1="649.73" x2="471.73" y2="649.73" stroke="#1a1a1a" stroke-width="1.6"/>
<line x1="465.60" y1="657.00" x2="472.00" y2="657.00" stroke="#1a1a1a" stroke-width="1.6"/>
<line x1="487.11" y1="664.41" x2="487.61" y2="663.03" stroke="#1a1a1a" stroke-width="1.6"/>
<line x1="482.22" y1="663.42" x2="483.22" y2="660.66" stroke="#1a1a1a" stroke-width="1.6"/>
<line x1="477.33" y1="662.44" x2="478.83" y2="658.28" stroke="#1a1a1a" stroke-width="1.6"/>
<line x1="472.44" y1="661.45" x2="474.44" y2="655.91" stroke="#1a1a1a" stroke-width="1.6"/>
<polygon points="492.15,665.77 491.85,665.03 470.19,672.26 471.81,676.14" fill="#1a1a1a" stroke="#1a1a1a" stroke-width="0.4"/>
<line x1="471.00" y1="674.20" x2="474.00" y2="697.00" stroke="#1a1a1a" stroke-width="3.8"/>
<polygon points="496.31,702.59 496.49,701.81 474.47,694.95 473.53,699.05" fill="#1a1a1a" stroke="#1a1a1a" stroke-width="0.4"/>
<circle cx="471.00" cy="674.20" r="1.9" fill="#1a1a1a"/><circle cx="474.00" cy="697.00" r="1.9" fill="#1a1a1a"/>
<line x1="526.00" y1="639.90" x2="541.50" y2="645.70" stroke="#1a1a1a" stroke-width="1.5"/>
<text x="548.00" y="653.90" text-anchor="middle" fill="#1a1a1a" stroke="#1a1a1a" stroke-width="0.25" font-size="16.1"  xml:space="preserve"><tspan font-size="16.10">P</tspan></text>
<text x="543.00" y="637.20" text-anchor="start" fill="#1a1a1a" stroke="#1a1a1a" stroke-width="0.25" font-size="16.1"  xml:space="preserve"><tspan font-size="16.10">Ar</tspan><tspan font-size="11.43" dy="3.06">2</tspan></text>
<line x1="531.00" y1="680.50" x2="543.50" y2="674.00" stroke="#1a1a1a" stroke-width="1.5"/>
<text x="550.60" y="675.80" text-anchor="middle" fill="#1a1a1a" stroke="#1a1a1a" stroke-width="0.25" font-size="16.1"  xml:space="preserve"><tspan font-size="16.10">N</tspan></text>
<line x1="550.60" y1="677.70" x2="550.60" y2="683.30" stroke="#1a1a1a" stroke-width="1.8"/>
<text x="550.60" y="700.20" text-anchor="middle" fill="#1a1a1a" stroke="#1a1a1a" stroke-width="0.25" font-size="16.1"  xml:space="preserve"><tspan font-size="16.10">H</tspan></text>
<text x="576.30" y="663.80" text-anchor="middle" fill="#1a1a1a" stroke="#1a1a1a" stroke-width="0.25" font-size="16.1"  xml:space="preserve"><tspan font-size="16.10">Ir</tspan></text>
<text x="580.20" y="640.20" text-anchor="middle" fill="#1a1a1a" stroke="#1a1a1a" stroke-width="0.25" font-size="16.1"  xml:space="preserve"><tspan font-size="16.10">Cl</tspan></text>
<line x1="578.80" y1="643.00" x2="578.80" y2="649.00" stroke="#1a1a1a" stroke-width="1.8"/>
<line x1="578.80" y1="665.50" x2="578.80" y2="673.00" stroke="#1a1a1a" stroke-width="1.8"/>
<text x="578.80" y="686.40" text-anchor="middle" fill="#1a1a1a" stroke="#1a1a1a" stroke-width="0.25" font-size="16.1"  xml:space="preserve"><tspan font-size="16.10">H</tspan></text>
<text x="597.00" y="649.20" text-anchor="middle" fill="#1a1a1a" stroke="#1a1a1a" stroke-width="0.25" font-size="16.1"  xml:space="preserve"><tspan font-size="16.10">H</tspan></text>
<line x1="556.82" y1="649.63" x2="556.28" y2="650.81" stroke="#1a1a1a" stroke-width="1.7"/>
<line x1="560.12" y1="650.65" x2="559.18" y2="652.67" stroke="#1a1a1a" stroke-width="1.7"/>
<line x1="563.42" y1="651.67" x2="562.08" y2="654.53" stroke="#1a1a1a" stroke-width="1.7"/>
<line x1="566.71" y1="652.68" x2="564.99" y2="656.40" stroke="#1a1a1a" stroke-width="1.7"/>
<line x1="570.01" y1="653.70" x2="567.89" y2="658.26" stroke="#1a1a1a" stroke-width="1.7"/>
<polygon points="570.70,658.35 570.30,657.65 556.35,663.51 558.65,667.49" fill="#1a1a1a" stroke="#1a1a1a" stroke-width="0.4"/>
<line x1="584.55" y1="652.67" x2="585.51" y2="653.76" stroke="#1a1a1a" stroke-width="1.9"/>
<line x1="586.55" y1="649.97" x2="588.45" y2="652.13" stroke="#1a1a1a" stroke-width="1.9"/>
<line x1="588.55" y1="647.27" x2="591.38" y2="650.50" stroke="#1a1a1a" stroke-width="1.9"/>
<line x1="556.00" y1="675.50" x2="576.40" y2="698.80" stroke="#1a1a1a" stroke-width="1.5"/>
<text x="600.80" y="672.70" text-anchor="middle" fill="#1a1a1a" stroke="#1a1a1a" stroke-width="0.25" font-size="16.1"  xml:space="preserve"><tspan font-size="16.10">N</tspan></text>
<polygon points="583.17,658.64 582.83,659.36 591.03,665.28 592.97,661.12" fill="#1a1a1a" stroke="#1a1a1a" stroke-width="0.4"/>
<line x1="607.33" y1="666.14" x2="623.60" y2="662.40" stroke="#1a1a1a" stroke-width="1.5"/>
<line x1="623.60" y1="662.40" x2="634.00" y2="684.00" stroke="#1a1a1a" stroke-width="1.5"/>
<line x1="634.00" y1="684.00" x2="622.38" y2="695.48" stroke="#1a1a1a" stroke-width="1.5"/>
<text x="617.40" y="706.50" text-anchor="middle" fill="#1a1a1a" stroke="#1a1a1a" stroke-width="0.25" font-size="16.1"  xml:space="preserve"><tspan font-size="16.10">O</tspan></text>
<line x1="611.28" y1="697.00" x2="598.00" y2="689.60" stroke="#1a1a1a" stroke-width="1.5"/>
<line x1="598.00" y1="689.60" x2="599.99" y2="675.03" stroke="#1a1a1a" stroke-width="1.5"/>
<line x1="601.50" y1="689.07" x2="603.22" y2="676.48" stroke="#1a1a1a" stroke-width="1.5"/>
<line x1="598.00" y1="689.60" x2="576.40" y2="699.00" stroke="#1a1a1a" stroke-width="1.5"/>
<line x1="637.59" y1="684.24" x2="637.32" y2="685.38" stroke="#1a1a1a" stroke-width="1.6"/>
<line x1="640.69" y1="684.54" x2="640.23" y2="686.51" stroke="#1a1a1a" stroke-width="1.6"/>
<line x1="643.80" y1="684.83" x2="643.14" y2="687.63" stroke="#1a1a1a" stroke-width="1.6"/>
<line x1="646.91" y1="685.12" x2="646.06" y2="688.75" stroke="#1a1a1a" stroke-width="1.6"/>
<line x1="650.02" y1="685.42" x2="648.97" y2="689.87" stroke="#1a1a1a" stroke-width="1.6"/>
<text x="652.00" y="693.10" text-anchor="start" fill="#1a1a1a" stroke="#1a1a1a" stroke-width="0.25" font-size="16.1"  xml:space="preserve"><tspan font-size="16.10">Ph</tspan></text>
<text x="568.00" y="759.90" text-anchor="middle" fill="#1a1a1a" stroke="#1a1a1a" stroke-width="0.25" font-size="16.1"  xml:space="preserve"><tspan font-size="16.10">(Ar = 3,5-(</tspan><tspan font-size="11.59" dy="-5.63" font-style="italic">t</tspan><tspan font-size="16.10" dy="5.63">Bu)</tspan><tspan font-size="11.43" dy="3.06">2</tspan><tspan font-size="16.10" dy="-3.06">C</tspan><tspan font-size="11.43" dy="3.06">6</tspan><tspan font-size="16.10" dy="-3.06">H</tspan><tspan font-size="11.43" dy="3.06">3</tspan><tspan font-size="16.10" dy="-3.06">)</tspan></text>
<text x="568.00" y="780.70" text-anchor="middle" fill="#1a1a1a" stroke="#1a1a1a" stroke-width="0.25" font-size="16.1"  xml:space="preserve"><tspan font-size="16.10" font-weight="bold">cat.23</tspan></text>
<polygon points="69.00,831.00 80.00,811.40 103.60,811.40 115.00,831.00 103.60,850.60 80.00,850.60" fill="none" stroke="#1a1a1a" stroke-width="1.8" stroke-linejoin="round"/>
<line x1="82.70" y1="815.60" x2="100.90" y2="815.60" stroke="#1a1a1a" stroke-width="1.8"/>
<line x1="110.01" y1="831.22" x2="101.33" y2="846.15" stroke="#1a1a1a" stroke-width="1.8"/>
<line x1="82.34" y1="846.19" x2="73.98" y2="831.30" stroke="#1a1a1a" stroke-width="1.8"/>
<text x="44.00" y="838.20" text-anchor="middle" fill="#1a1a1a" stroke="#1a1a1a" stroke-width="0.25" font-size="16.1"  xml:space="preserve"><tspan font-size="16.10">O</tspan></text>
<line x1="51.00" y1="831.43" x2="69.00" y2="831.00" stroke="#1a1a1a" stroke-width="1.5"/>
<polygon points="32.65,850.80 33.35,851.20 42.18,839.72 37.82,837.28" fill="#1a1a1a" stroke="#1a1a1a" stroke-width="0.4"/>
<line x1="33.00" y1="851.00" x2="9.60" y2="854.40" stroke="#1a1a1a" stroke-width="1.5"/>
<line x1="9.60" y1="854.40" x2="4.40" y2="877.00" stroke="#1a1a1a" stroke-width="1.5"/>
<line x1="4.40" y1="877.00" x2="19.07" y2="885.31" stroke="#1a1a1a" stroke-width="1.5"/>
<line x1="31.22" y1="884.03" x2="43.00" y2="873.60" stroke="#1a1a1a" stroke-width="1.5"/>
<line x1="43.00" y1="873.60" x2="33.00" y2="851.00" stroke="#1a1a1a" stroke-width="1.5"/>
<text x="25.60" y="894.90" text-anchor="middle" fill="#1a1a1a" stroke="#1a1a1a" stroke-width="0.25" font-size="16.1"  xml:space="preserve"><tspan font-size="16.10">O</tspan></text>
<polygon points="43.07,873.21 42.93,873.99 58.04,878.96 58.96,874.04" fill="#1a1a1a" stroke="#1a1a1a" stroke-width="0.4"/>
<text x="60.00" y="884.10" text-anchor="start" fill="#1a1a1a" stroke="#1a1a1a" stroke-width="0.25" font-size="16.1"  xml:space="preserve"><tspan font-size="16.10">OH</tspan></text>
<text x="66.70" y="919.70" text-anchor="middle" fill="#1a1a1a" stroke="#1a1a1a" stroke-width="0.25" font-size="16.1"  xml:space="preserve"><tspan font-size="16.10">(2</tspan><tspan font-size="16.10" font-style="italic">S</tspan><tspan font-size="16.10">,3</tspan><tspan font-size="16.10" font-style="italic">R</tspan><tspan font-size="16.10">)-</tspan><tspan font-size="16.10" font-weight="bold">95a</tspan></text>
<line x1="144.60" y1="852.80" x2="255.83" y2="852.80" stroke="#1a1a1a" stroke-width="1.8"/>
<polygon points="275.00,852.80 250.70,859.10 254.83,852.80 250.70,846.50" fill="#1a1a1a"/>
<text x="209.30" y="883.40" text-anchor="middle" fill="#1a1a1a" stroke="#1a1a1a" stroke-width="0.25" font-size="16.1"  xml:space="preserve"><tspan font-size="11.59" dy="-5.63" font-style="italic">t</tspan><tspan font-size="16.10" dy="5.63">BuOK, </tspan><tspan font-size="11.59" dy="-5.63" font-style="italic">n</tspan><tspan font-size="16.10" dy="5.63">PrOH</tspan></text>
<text x="209.30" y="904.50" text-anchor="middle" fill="#1a1a1a" stroke="#1a1a1a" stroke-width="0.25" font-size="16.1"  xml:space="preserve"><tspan font-size="16.10" font-weight="bold">delactonization</tspan></text>
<polygon points="363.60,831.00 375.00,811.00 398.40,811.00 409.60,831.00 398.40,850.60 375.00,850.60" fill="none" stroke="#1a1a1a" stroke-width="1.8" stroke-linejoin="round"/>
<line x1="377.70" y1="815.20" x2="395.70" y2="815.20" stroke="#1a1a1a" stroke-width="1.8"/>
<line x1="404.61" y1="831.26" x2="396.09" y2="846.17" stroke="#1a1a1a" stroke-width="1.8"/>
<line x1="377.27" y1="846.15" x2="368.59" y2="831.22" stroke="#1a1a1a" stroke-width="1.8"/>
<text x="339.00" y="838.20" text-anchor="middle" fill="#1a1a1a" stroke="#1a1a1a" stroke-width="0.25" font-size="16.1"  xml:space="preserve"><tspan font-size="16.10">O</tspan></text>
<line x1="346.00" y1="831.43" x2="363.60" y2="831.00" stroke="#1a1a1a" stroke-width="1.5"/>
<polygon points="327.65,850.82 328.35,851.18 336.82,839.45 332.38,837.15" fill="#1a1a1a" stroke="#1a1a1a" stroke-width="0.4"/>
<line x1="328.00" y1="851.00" x2="304.40" y2="854.40" stroke="#1a1a1a" stroke-width="1.5"/>
<line x1="304.40" y1="854.40" x2="299.60" y2="877.00" stroke="#1a1a1a" stroke-width="1.5"/>
<line x1="299.60" y1="877.00" x2="313.00" y2="885.00" stroke="#1a1a1a" stroke-width="1.5"/>
<text x="314.00" y="894.70" text-anchor="start" fill="#1a1a1a" stroke="#1a1a1a" stroke-width="0.25" font-size="16.1"  xml:space="preserve"><tspan font-size="16.10">OH</tspan></text>
<line x1="328.00" y1="851.00" x2="337.00" y2="872.00" stroke="#1a1a1a" stroke-width="1.5"/>
<line x1="336.57" y1="873.85" x2="352.26" y2="877.54" stroke="#1a1a1a" stroke-width="1.5"/>
<line x1="337.43" y1="870.15" x2="353.13" y2="873.84" stroke="#1a1a1a" stroke-width="1.5"/>
<text x="360.00" y="882.30" text-anchor="middle" fill="#1a1a1a" stroke="#1a1a1a" stroke-width="0.25" font-size="16.1"  xml:space="preserve"><tspan font-size="16.10">O</tspan></text>
<text x="362.70" y="920.20" text-anchor="middle" fill="#1a1a1a" stroke="#1a1a1a" stroke-width="0.25" font-size="16.1"  xml:space="preserve"><tspan font-size="16.10">(</tspan><tspan font-size="16.10" font-style="italic">R</tspan><tspan font-size="16.10">)-</tspan><tspan font-size="16.10" font-weight="bold">96a</tspan></text>
<line x1="422.40" y1="853.90" x2="542.33" y2="853.90" stroke="#1a1a1a" stroke-width="1.8"/>
<polygon points="561.50,853.90 537.20,860.20 541.33,853.90 537.20,847.60" fill="#1a1a1a"/>
<text x="491.40" y="842.40" text-anchor="middle" fill="#1a1a1a" stroke="#1a1a1a" stroke-width="0.25" font-size="16.1"  xml:space="preserve"><tspan font-size="16.10">H</tspan><tspan font-size="11.43" dy="3.06">2</tspan><tspan font-size="16.10" dy="-3.06">/</tspan><tspan font-size="16.10" font-weight="bold">cat.23</tspan></text>
<text x="491.00" y="877.60" text-anchor="middle" fill="#e62a2a" stroke="#e62a2a" stroke-width="0.25" font-size="16.1" font-weight="bold"  xml:space="preserve"><tspan font-size="16.10">fast</tspan></text>
<polygon points="643.00,835.00 654.40,815.00 677.60,815.00 688.00,835.00 677.60,855.00 654.40,855.00" fill="none" stroke="#1a1a1a" stroke-width="1.8" stroke-linejoin="round"/>
<line x1="657.10" y1="819.20" x2="674.90" y2="819.20" stroke="#1a1a1a" stroke-width="1.8"/>
<line x1="683.03" y1="835.46" x2="675.12" y2="850.67" stroke="#1a1a1a" stroke-width="1.8"/>
<line x1="656.71" y1="850.57" x2="647.99" y2="835.27" stroke="#1a1a1a" stroke-width="1.8"/>
<text x="619.00" y="842.20" text-anchor="middle" fill="#1a1a1a" stroke="#1a1a1a" stroke-width="0.25" font-size="16.1"  xml:space="preserve"><tspan font-size="16.10">O</tspan></text>
<line x1="626.00" y1="835.43" x2="643.00" y2="835.00" stroke="#1a1a1a" stroke-width="1.5"/>
<polygon points="607.24,854.82 607.96,855.18 616.04,843.72 611.56,841.48" fill="#1a1a1a" stroke="#1a1a1a" stroke-width="0.4"/>
<line x1="607.60" y1="855.00" x2="583.60" y2="858.40" stroke="#1a1a1a" stroke-width="1.5"/>
<line x1="583.60" y1="858.40" x2="579.00" y2="881.00" stroke="#1a1a1a" stroke-width="1.5"/>
<line x1="579.00" y1="881.00" x2="592.00" y2="888.40" stroke="#1a1a1a" stroke-width="1.5"/>
<text x="593.60" y="898.70" text-anchor="start" fill="#1a1a1a" stroke="#1a1a1a" stroke-width="0.25" font-size="16.1"  xml:space="preserve"><tspan font-size="16.10">OH</tspan></text>
<line x1="607.60" y1="855.00" x2="616.40" y2="876.00" stroke="#1a1a1a" stroke-width="1.5"/>
<line x1="616.40" y1="876.00" x2="632.00" y2="881.00" stroke="#1a1a1a" stroke-width="1.5"/>
<text x="633.00" y="887.70" text-anchor="start" fill="#1a1a1a" stroke="#1a1a1a" stroke-width="0.25" font-size="16.1"  xml:space="preserve"><tspan font-size="16.10">OH</tspan></text>
<text x="637.50" y="923.70" text-anchor="middle" fill="#1a1a1a" stroke="#1a1a1a" stroke-width="0.25" font-size="16.1"  xml:space="preserve"><tspan font-size="16.10">(</tspan><tspan font-size="16.10" font-style="italic">R</tspan><tspan font-size="16.10">)-</tspan><tspan font-size="16.10" font-weight="bold">97a</tspan></text>
<text x="-0.30" y="993.00" text-anchor="start" fill="#2e3192" stroke="#2e3192" stroke-width="0.25" font-size="16.1" font-weight="bold"  xml:space="preserve"><tspan font-size="16.10">C) Palladium-catalyzed asymmetric hydrogenation of lactones under </tspan><tspan font-size="16.10" fill="#e62a2a" stroke="#e62a2a">base-free</tspan><tspan font-size="16.10"> conditions:</tspan></text>
<polygon points="21.40,1062.50 40.70,1073.90 40.70,1096.80 21.40,1108.60 1.70,1096.80 1.70,1073.90" fill="none" stroke="#1a1a1a" stroke-width="1.8" stroke-linejoin="round"/>
<line x1="21.59" y1="1067.49" x2="36.24" y2="1076.14" stroke="#1a1a1a" stroke-width="1.8"/>
<line x1="36.21" y1="1094.63" x2="21.51" y2="1103.61" stroke="#1a1a1a" stroke-width="1.8"/>
<line x1="5.90" y1="1094.10" x2="5.90" y2="1076.60" stroke="#1a1a1a" stroke-width="1.8"/>
<text x="21.10" y="1093.80" text-anchor="middle" fill="#1a1a1a" stroke="#1a1a1a" stroke-width="0.25" font-size="16.1"  xml:space="preserve"><tspan font-size="16.10">Ar</tspan></text>
<line x1="40.70" y1="1073.90" x2="54.26" y2="1066.47" stroke="#9a3a98" stroke-width="1.5"/>
<text x="60.40" y="1069.60" text-anchor="middle" fill="#9a3a98" stroke="#9a3a98" stroke-width="0.25" font-size="16.1"  xml:space="preserve"><tspan font-size="16.10">O</tspan></text>
<line x1="66.60" y1="1066.35" x2="81.00" y2="1073.90" stroke="#9a3a98" stroke-width="1.5"/>
<line x1="81.90" y1="1075.57" x2="94.03" y2="1069.01" stroke="#9a3a98" stroke-width="1.5"/>
<line x1="80.10" y1="1072.23" x2="92.22" y2="1065.67" stroke="#9a3a98" stroke-width="1.5"/>
<text x="100.30" y="1069.60" text-anchor="middle" fill="#9a3a98" stroke="#9a3a98" stroke-width="0.25" font-size="16.1"  xml:space="preserve"><tspan font-size="16.10">O</tspan></text>
<line x1="81.00" y1="1073.90" x2="81.00" y2="1080.50" stroke="#9a3a98" stroke-width="1.5"/>
<line x1="81.00" y1="1080.50" x2="81.00" y2="1096.80" stroke="#1a1a1a" stroke-width="1.5"/>
<line x1="81.00" y1="1096.80" x2="61.10" y2="1108.60" stroke="#1a1a1a" stroke-width="1.5"/>
<line x1="61.10" y1="1108.60" x2="40.70" y2="1096.80" stroke="#1a1a1a" stroke-width="1.5"/>
<line x1="81.00" y1="1096.80" x2="96.40" y2="1106.00" stroke="#1a1a1a" stroke-width="1.5"/>
<text x="96.00" y="1115.30" text-anchor="start" fill="#1a1a1a" stroke="#1a1a1a" stroke-width="0.25" font-size="16.1"  xml:space="preserve"><tspan font-size="16.10">CO</tspan><tspan font-size="11.43" dy="3.06">2</tspan><tspan font-size="16.10" dy="-3.06">R</tspan></text>
<text x="69.00" y="1152.10" text-anchor="middle" fill="#1a1a1a" stroke="#1a1a1a" stroke-width="0.25" font-size="16.1"  xml:space="preserve"><tspan font-size="16.10" font-weight="bold">98</tspan></text>
<text x="69.10" y="1171.40" text-anchor="middle" fill="#1a1a1a" stroke="#1a1a1a" stroke-width="0.25" font-size="16.1"  xml:space="preserve"><tspan font-size="16.10">R = alkyl</tspan></text>
<line x1="150.80" y1="1087.20" x2="338.88" y2="1087.20" stroke="#1a1a1a" stroke-width="1.8"/>
<polygon points="357.80,1087.20 333.80,1093.40 337.88,1087.20 333.80,1081.00" fill="#1a1a1a"/>
<text x="254.70" y="1070.50" text-anchor="middle" fill="#1a1a1a" stroke="#1a1a1a" stroke-width="0.25" font-size="16.1"  xml:space="preserve"><tspan font-size="16.10">Pd(OCOCF</tspan><tspan font-size="11.43" dy="3.06">3</tspan><tspan font-size="16.10" dy="-3.06">)</tspan><tspan font-size="11.43" dy="3.06">2</tspan><tspan font-size="16.10" dy="-3.06">, </tspan><tspan font-size="16.10" font-weight="bold">L15</tspan></text>
<text x="253.50" y="1114.60" text-anchor="middle" fill="#1a1a1a" stroke="#1a1a1a" stroke-width="0.25" font-size="16.1"  xml:space="preserve"><tspan font-size="16.10">HFIP/Toluene = 5:1</tspan></text>
<text x="254.50" y="1135.50" text-anchor="middle" fill="#1a1a1a" stroke="#1a1a1a" stroke-width="0.25" font-size="16.1"  xml:space="preserve"><tspan font-size="16.10">30 </tspan><tspan font-size="11.59" dy="-7.08">o</tspan><tspan font-size="16.10" dy="7.08">C, H</tspan><tspan font-size="11.43" dy="3.06">2</tspan><tspan font-size="16.10" dy="-3.06"> (400 psi), 48 h</tspan></text>
<polygon points="402.60,1060.60 423.30,1072.10 423.30,1095.40 402.60,1106.80 382.00,1095.40 382.00,1072.10" fill="none" stroke="#1a1a1a" stroke-width="1.8" stroke-linejoin="round"/>
<line x1="402.92" y1="1065.58" x2="418.90" y2="1074.46" stroke="#1a1a1a" stroke-width="1.8"/>
<line x1="418.91" y1="1093.02" x2="402.94" y2="1101.82" stroke="#1a1a1a" stroke-width="1.8"/>
<line x1="386.20" y1="1092.70" x2="386.20" y2="1074.80" stroke="#1a1a1a" stroke-width="1.8"/>
<text x="403.00" y="1090.50" text-anchor="middle" fill="#1a1a1a" stroke="#1a1a1a" stroke-width="0.25" font-size="16.1"  xml:space="preserve"><tspan font-size="16.10">Ar</tspan></text>
<line x1="423.30" y1="1072.10" x2="435.90" y2="1064.30" stroke="#9a3a98" stroke-width="1.5"/>
<text x="435.40" y="1066.90" text-anchor="start" fill="#9a3a98" stroke="#9a3a98" stroke-width="0.25" font-size="16.1"  xml:space="preserve"><tspan font-size="16.10">OH</tspan></text>
<line x1="423.30" y1="1095.40" x2="442.20" y2="1106.80" stroke="#1a1a1a" stroke-width="1.5"/>
<line x1="442.20" y1="1106.80" x2="462.10" y2="1095.40" stroke="#1a1a1a" stroke-width="1.5"/>
<line x1="462.10" y1="1095.40" x2="462.10" y2="1084.00" stroke="#1a1a1a" stroke-width="1.5"/>
<line x1="462.10" y1="1084.00" x2="462.10" y2="1072.10" stroke="#9a3a98" stroke-width="1.5"/>
<line x1="462.10" y1="1072.10" x2="475.50" y2="1064.30" stroke="#9a3a98" stroke-width="1.5"/>
<text x="475.50" y="1066.90" text-anchor="start" fill="#9a3a98" stroke="#9a3a98" stroke-width="0.25" font-size="16.1"  xml:space="preserve"><tspan font-size="16.10">OH</tspan></text>
<line x1="463.80" y1="1095.95" x2="463.08" y2="1096.89" stroke="#1a1a1a" stroke-width="1.6"/>
<line x1="466.73" y1="1097.65" x2="465.51" y2="1099.27" stroke="#1a1a1a" stroke-width="1.6"/>
<line x1="469.67" y1="1099.36" x2="467.93" y2="1101.64" stroke="#1a1a1a" stroke-width="1.6"/>
<line x1="472.61" y1="1101.06" x2="470.35" y2="1104.02" stroke="#1a1a1a" stroke-width="1.6"/>
<line x1="475.55" y1="1102.76" x2="472.77" y2="1106.40" stroke="#1a1a1a" stroke-width="1.6"/>
<text x="476.70" y="1113.10" text-anchor="start" fill="#1a1a1a" stroke="#1a1a1a" stroke-width="0.25" font-size="16.1"  xml:space="preserve"><tspan font-size="16.10">CO</tspan><tspan font-size="11.43" dy="3.06">2</tspan><tspan font-size="16.10" dy="-3.06">R</tspan></text>
<text x="450.80" y="1149.50" text-anchor="middle" fill="#1a1a1a" stroke="#1a1a1a" stroke-width="0.25" font-size="16.1"  xml:space="preserve"><tspan font-size="16.10" font-weight="bold">99</tspan><tspan font-size="16.10">, 16 examples</tspan></text>
<text x="451.20" y="1168.90" text-anchor="middle" fill="#1a1a1a" stroke="#1a1a1a" stroke-width="0.25" font-size="16.1"  xml:space="preserve"><tspan font-size="16.10">up to 99% yield</tspan></text>
<text x="451.00" y="1188.10" text-anchor="middle" fill="#1a1a1a" stroke="#1a1a1a" stroke-width="0.25" font-size="16.1"  xml:space="preserve"><tspan font-size="16.10">up to 91% </tspan><tspan font-size="16.10" font-style="italic">ee</tspan></text>
<rect x="547.5" y="1044.3" width="149.79999999999995" height="148.79999999999995" fill="#b9b4b4"/>
<rect x="541" y="1037.8" width="149.79999999999995" height="148.79999999999995" fill="#fff" stroke="#1a1a1a" stroke-width="1.6"/>
<polygon points="577.40,1080.50 599.20,1093.10 599.20,1116.20 577.40,1128.40 556.20,1116.20 556.20,1093.10" fill="none" stroke="#1a1a1a" stroke-width="1.8" stroke-linejoin="round"/>
<line x1="577.64" y1="1085.49" x2="594.76" y2="1095.39" stroke="#1a1a1a" stroke-width="1.8"/>
<line x1="594.79" y1="1113.85" x2="577.71" y2="1123.42" stroke="#1a1a1a" stroke-width="1.8"/>
<line x1="560.40" y1="1113.50" x2="560.40" y2="1095.80" stroke="#1a1a1a" stroke-width="1.8"/>
<line x1="599.20" y1="1093.10" x2="612.50" y2="1085.63" stroke="#1a1a1a" stroke-width="1.5"/>
<text x="618.60" y="1088.50" text-anchor="middle" fill="#1a1a1a" stroke="#1a1a1a" stroke-width="0.25" font-size="16.1"  xml:space="preserve"><tspan font-size="16.10">N</tspan></text>
<line x1="624.79" y1="1085.46" x2="639.30" y2="1093.10" stroke="#1a1a1a" stroke-width="1.5"/>
<line x1="624.21" y1="1089.79" x2="636.06" y2="1096.03" stroke="#1a1a1a" stroke-width="1.5"/>
<line x1="639.30" y1="1093.10" x2="639.30" y2="1116.20" stroke="#1a1a1a" stroke-width="1.5"/>
<line x1="639.30" y1="1116.20" x2="624.79" y2="1123.84" stroke="#1a1a1a" stroke-width="1.5"/>
<line x1="636.06" y1="1113.27" x2="624.21" y2="1119.51" stroke="#1a1a1a" stroke-width="1.5"/>
<text x="618.60" y="1133.90" text-anchor="middle" fill="#1a1a1a" stroke="#1a1a1a" stroke-width="0.25" font-size="16.1"  xml:space="preserve"><tspan font-size="16.10">N</tspan></text>
<line x1="612.50" y1="1123.67" x2="599.20" y2="1116.20" stroke="#1a1a1a" stroke-width="1.5"/>
<line x1="577.40" y1="1080.50" x2="577.40" y2="1065.20" stroke="#1a1a1a" stroke-width="1.5"/>
<text x="574.90" y="1064.20" text-anchor="start" fill="#1a1a1a" stroke="#1a1a1a" stroke-width="0.25" font-size="16.1"  xml:space="preserve"><tspan font-size="16.10">TMS</tspan></text>
<line x1="577.40" y1="1128.40" x2="577.40" y2="1144.10" stroke="#1a1a1a" stroke-width="1.5"/>
<text x="574.90" y="1157.00" text-anchor="start" fill="#1a1a1a" stroke="#1a1a1a" stroke-width="0.25" font-size="16.1"  xml:space="preserve"><tspan font-size="16.10">TMS</tspan></text>
<line x1="639.30" y1="1093.10" x2="651.40" y2="1086.30" stroke="#1a1a1a" stroke-width="1.5"/>
<text x="658.70" y="1088.50" text-anchor="middle" fill="#1a1a1a" stroke="#1a1a1a" stroke-width="0.25" font-size="16.1"  xml:space="preserve"><tspan font-size="16.10">P</tspan></text>
<line x1="659.20" y1="1066.40" x2="659.20" y2="1073.70" stroke="#1a1a1a" stroke-width="1.8"/>
<text x="658.20" y="1064.20" text-anchor="start" fill="#1a1a1a" stroke="#1a1a1a" stroke-width="0.25" font-size="16.1"  xml:space="preserve"><tspan font-size="11.59" dy="-5.63" font-style="italic">t</tspan><tspan font-size="16.10" dy="5.63">Bu</tspan></text>
<polygon points="665.00,1084.26 664.60,1084.94 677.33,1094.86 679.87,1090.54" fill="#1a1a1a" stroke="#1a1a1a" stroke-width="0.4"/>
<line x1="639.30" y1="1116.20" x2="652.60" y2="1123.50" stroke="#1a1a1a" stroke-width="1.5"/>
<text x="658.70" y="1134.70" text-anchor="middle" fill="#1a1a1a" stroke="#1a1a1a" stroke-width="0.25" font-size="16.1"  xml:space="preserve"><tspan font-size="16.10">P</tspan></text>
<line x1="665.92" y1="1123.70" x2="666.60" y2="1124.66" stroke="#1a1a1a" stroke-width="1.6"/>
<line x1="668.60" y1="1121.31" x2="669.76" y2="1122.97" stroke="#1a1a1a" stroke-width="1.6"/>
<line x1="671.28" y1="1118.92" x2="672.92" y2="1121.28" stroke="#1a1a1a" stroke-width="1.6"/>
<line x1="673.95" y1="1116.53" x2="676.09" y2="1119.59" stroke="#1a1a1a" stroke-width="1.6"/>
<line x1="676.63" y1="1114.14" x2="679.25" y2="1117.90" stroke="#1a1a1a" stroke-width="1.6"/>
<line x1="659.20" y1="1135.60" x2="659.20" y2="1143.00" stroke="#1a1a1a" stroke-width="1.8"/>
<text x="658.20" y="1157.00" text-anchor="start" fill="#1a1a1a" stroke="#1a1a1a" stroke-width="0.25" font-size="16.1"  xml:space="preserve"><tspan font-size="11.59" dy="-5.63" font-style="italic">t</tspan><tspan font-size="16.10" dy="5.63">Bu</tspan></text>
<text x="619.40" y="1178.40" text-anchor="middle" fill="#1a1a1a" stroke="#1a1a1a" stroke-width="0.25" font-size="16.1"  xml:space="preserve"><tspan font-size="16.10" font-weight="bold">L15</tspan></text>
</svg>
</body></html>
